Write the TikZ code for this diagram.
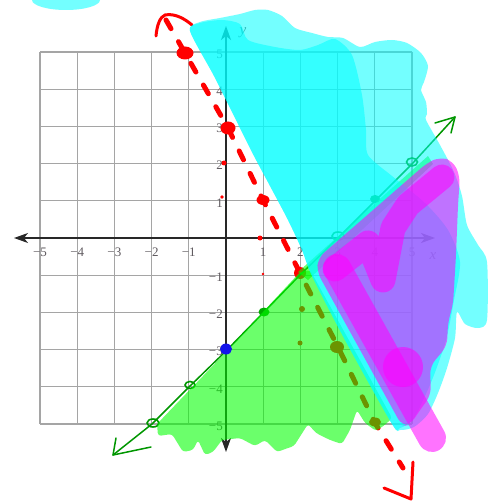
\documentclass[tikz,border=0pt]{standalone}
\usepackage{fontspec}
\setmainfont{Liberation Serif}
\usetikzlibrary{arrows.meta}
\definecolor{gridc}{RGB}{165,165,165}
\definecolor{axisc}{RGB}{40,40,40}
\definecolor{labc}{RGB}{95,90,95}
\definecolor{redl}{RGB}{255,0,0}
\definecolor{greenl}{RGB}{0,150,0}
\definecolor{greenf}{RGB}{0,255,0}
\definecolor{cyanf}{RGB}{0,255,255}
\definecolor{magf}{RGB}{255,0,255}
\definecolor{bluedot}{RGB}{20,20,235}
\tikzset{
  gridline/.style={draw=gridc, line width=1.3pt},
  axisline/.style={draw=axisc, line width=1.5pt},
  ticklab/.style={text=labc, font=\fontsize{13}{13}\selectfont, inner sep=0pt},
  axlab/.style={text=labc, font=\fontsize{15}{15}\selectfont\itshape, inner sep=0pt},
  reddash/.style={draw=redl, line width=5pt, line cap=round, dash pattern=on 10pt off 15pt},
  redhand/.style={draw=redl, line width=3pt, line cap=round, line join=round},
  greenline/.style={draw=greenl, line width=1.5pt, line cap=round, line join=round},
  greenmark/.style={draw=greenl, line width=1.6pt},
  cyanlayer/.style={fill=cyanf, fill opacity=0.55},
  maglayer/.style={fill=magf, fill opacity=0.55},
  magstroke/.style={draw=magf, draw opacity=0.55, line cap=round, line join=round},
  greenlayer/.style={fill=greenf, fill opacity=0.58}
}
\begin{document}
\begin{tikzpicture}[x=1pt,y=-1pt]
\useasboundingbox (0,0) rectangle (487,502);

% top-left blob
\fill[cyanlayer] (66,0) ellipse (34 and 10);

% grid
\foreach \i in {0,...,10}{
  \draw[gridline] ({40+37.2*\i},52) -- ({40+37.2*\i},424);
  \draw[gridline] (40,{52+37.2*\i}) -- (412,{52+37.2*\i});
}

% axes
\coordinate (xl) at (14,238);
\coordinate (xr) at (435,238);
\coordinate (yt) at (226,26);
\coordinate (yb) at (226,452);
\draw[axisline, {Stealth[length=14pt,width=10pt,inset=4pt]}-{Stealth[length=14pt,width=10pt,inset=4pt]}] (xl) -- (xr);
\draw[axisline, {Stealth[length=14pt,width=10pt,inset=4pt]}-{Stealth[length=14pt,width=10pt,inset=4pt]}] (yt) -- (yb);

% tick labels
\foreach \xv/\lab in {40/−5,77.2/−4,114.4/−3,151.6/−2,188.8/−1,263.2/1,300.4/2,337.6/3,374.8/4,412/5}{
  \node[ticklab] at (\xv,252) {\lab};
}
\foreach \yv/\lab in {52/5,89.2/4,126.4/3,163.6/2,200.8/1,275.2/−1,312.4/−2,349.6/−3,386.8/−4,424/−5}{
  \node[ticklab, anchor=east] at (223,\yv+2) {\lab};
}
\node[axlab] (xlab) at (433,256) {x};
\node[axlab] (ylab) at (243,33) {y};

% red dashed boundary
\draw[reddash] (166,20) -- (185,53) -- (228,128) -- (263,200) -- (300,273) -- (338,347) -- (375,423) -- (403,468);
\draw[redhand] (156,36) .. controls (157,25) and (160,17) .. (165,15) .. controls (175,13) and (185,19) .. (192,25);
\draw[redhand] (384,488) -- (411,499) -- (413,462);
% red points
\fill[redl] (185,53) ellipse (8.5 and 6.5);
\fill[redl] (228,128) ellipse (7.5 and 6.5);
\fill[redl] (263,200) ellipse (6.5 and 5);
\fill[redl] (300,273) circle (6);
\fill[redl] (224,163) circle (2.5);
\fill[redl] (222,197) circle (1.8);
\fill[redl] (260,238) circle (2.5);
\fill[redl] (263,274) circle (1.4);
\fill[redl] (302,309) circle (3);
\fill[redl] (300,343) circle (2.5);
\fill[redl] (337,347) ellipse (7 and 6);
\fill[redl] (375,422) ellipse (6 and 4.5);

% green boundary line
\draw[greenline] (113,455) -- (152,424) -- (189,387) -- (226,351) -- (263,313) -- (300,275) -- (338,238) -- (375,201) -- (412,164) -- (455,117);
\draw[greenline] (435,123) -- (455,117) -- (451,133);
\draw[greenline] (116,438) -- (113,455) -- (151,447);
\draw[greenmark] (153,423) ellipse (6 and 4);
\draw[greenmark] (190,385) ellipse (5 and 3.5);
\fill[greenl!80!green] (264,312) ellipse (5.5 and 4.5);
\draw[greenmark] (338,236) ellipse (6 and 4);
\fill[greenl] (375,199) ellipse (5 and 4);
\draw[greenmark] (412,162) ellipse (5.5 and 4);

% green shaded region
\path[greenlayer, rounded corners=3pt] (300,272) -- (226,352) -- (157,424) -- (158,436) -- (172,434) -- (183,452) -- (193,450) -- (198,440) -- (205,455) -- (213,452) -- (222,440) -- (240,438) -- (255,446) -- (265,440) -- (277,452) -- (288,448) -- (294,446) -- (308,424) -- (316,433) -- (330,440) -- (342,444) -- (350,430) -- (357,410) -- (365,423) -- (376,431) -- (386,424) -- (392,418) -- (310,270) -- cycle;
\path[greenlayer] (298,272) -- (428,156) -- (433,164) -- (308,280) -- cycle;

% blue point
\fill[bluedot] (226,349) ellipse (6 and 5.5);

% cyan shaded region (two layers)
\path[cyanlayer] plot[smooth cycle, tension=0.45] coordinates {
 (190,31) (200,22) (220,18) (240,14) (255,10) (268,10) (282,16) (295,28) (312,33) (328,37) (343,38) (360,47) (375,42) (392,40) (407,43) (421,53) (428,66) (424,82) (421,90) (426,102) (427,114) (426,120) (440,145) (454,172) (462,196) (467,225) (478,245) (487,262) (487,320) (478,328) (465,324) (457,312) (455,338) (447,368) (438,393) (428,414) (414,427) (400,430) (392,424) (345,340) (312,276) (302,250) (288,220) (270,186) (254,156) (236,120) (214,76) };
\path[cyanlayer] plot[smooth cycle, tension=0.45] coordinates {
 (190,31) (200,23) (222,20) (240,24) (248,40) (275,47) (300,50) (318,45) (335,39) (352,55) (362,95) (366,130) (368,155) (392,176) (425,203) (448,230) (460,262) (454,300) (446,340) (432,380) (414,418) (400,428) (392,424) (345,340) (312,276) (302,250) (288,220) (270,186) (254,156) (236,120) (214,76) };

% magenta shaded region
\path[maglayer, rounded corners=8pt] (427,163) -- (440,157) -- (453,161) -- (460,176) -- (458,205) -- (456,255) -- (453,305) -- (448,322) -- (447,346) -- (437,358) -- (430,366) -- (431,395) -- (420,410) -- (410,425) -- (402,426) -- (327,290) -- (317,272) -- (318,258) -- cycle;
\draw[magstroke, line width=28pt] (337,268) -- (432,438);
\draw[magstroke, line width=25pt] (335,269) -- (368,243) -- (383,280) -- (393,228) -- (408,205) -- (442,177);
\fill[maglayer] (403,367) circle (20);
\end{tikzpicture}
\end{document}
